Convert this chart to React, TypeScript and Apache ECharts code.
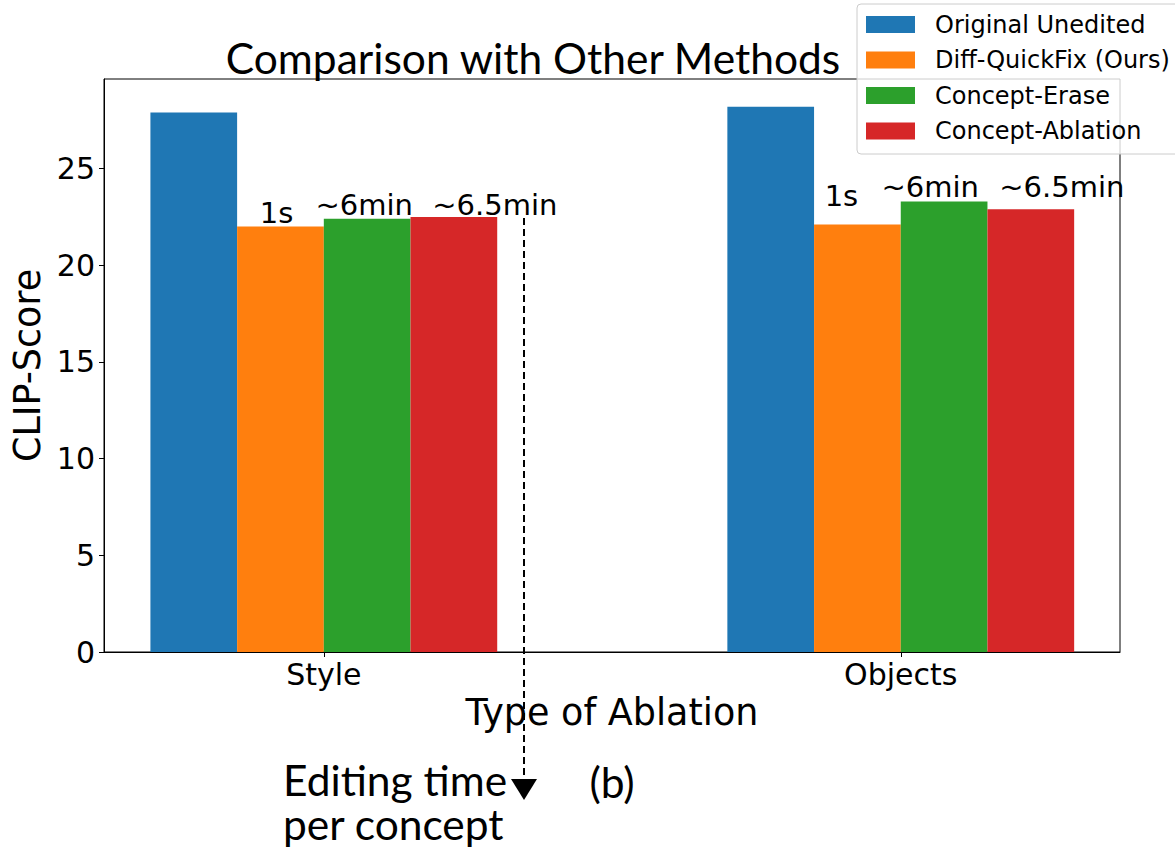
import React, { useEffect, useRef } from 'react';
import * as echarts from 'echarts';

const categories = ['Style', 'Objects'];
const categoryPositions = [0, 1];
const seriesNames = ['Original Unedited', 'Diff-QuickFix (Ours)', 'Concept-Erase', 'Concept-Ablation'];
const originalUnedited = [27.9, 28.2];
const diffQuickFix = [22.0, 22.1];
const conceptErase = [22.4, 23.3];
const conceptAblation = [22.5, 22.9];
const timeLabels = ['', '1s', '~6min', '~6.5min'];
const yTickValues = [0, 5, 10, 15, 20, 25];

const colors = ['#1f77b4', '#ff7f0e', '#2ca02c', '#d62728'];
const labelOffsets = [
  [[0, 0], [0, 0]],
  [[-4, 1], [-16, -14]],
  [[-3, 1], [-14, 0]],
  [[41, 3], [31, -8]],
];

const seriesValues = [originalUnedited, diffQuickFix, conceptErase, conceptAblation];

export default function App() {
  const ref = useRef<HTMLDivElement>(null);
  useEffect(() => {
    if (!ref.current) return;
    const chart = echarts.init(ref.current, undefined, { renderer: 'svg' });
    const font = 'DejaVu Sans';
    const overlayFont = 'Lato';
    const overlayText = (text: string, x: number, y: number, align: string, lineHeight: number) => ({
      type: 'text', x, y,
      style: {
        text, fontSize: 42.5, fontFamily: overlayFont, fill: '#000', lineHeight,
        align, verticalAlign: 'middle', textAlign: align, textVerticalAlign: 'middle',
      },
    });
    const option: any = {
      animation: false,
      backgroundColor: '#ffffff',
      grid: {
        left: 104, top: 79, width: 1016, height: 573,
        show: true, borderColor: '#000', borderWidth: 1, backgroundColor: 'transparent',
      },
      xAxis: {
        type: 'value', min: -0.381, max: 1.38,
        splitLine: { show: false },
        axisLine: { show: true, onZero: false, lineStyle: { color: '#000', width: 1 } },
        axisTick: { show: true, customValues: categoryPositions, length: 5, lineStyle: { color: '#000' } },
        axisLabel: {
          customValues: categoryPositions,
          formatter: (v: number) => categories[Math.round(v)] ?? '',
          fontSize: 30, fontFamily: font, color: '#000', margin: 7,
        },
        name: 'Type of Ablation', nameLocation: 'middle', nameGap: 39,
        nameTextStyle: { fontSize: 36.5, fontFamily: font, color: '#000' },
      },
      yAxis: {
        type: 'value', min: 0, max: 29.63,
        splitLine: { show: false },
        axisLine: { show: true, onZero: false, lineStyle: { color: '#000', width: 1 } },
        axisTick: { show: true, customValues: yTickValues, length: 5, lineStyle: { color: '#000' } },
        axisLabel: { customValues: yTickValues, fontSize: 30, fontFamily: font, color: '#000', margin: 9 },
        name: 'CLIP-Score', nameLocation: 'middle', nameGap: 56,
        nameTextStyle: { fontSize: 36.5, fontFamily: font, color: '#000' },
      },
      legend: {
        orient: 'vertical', left: 857, top: 4,
        icon: 'rect', itemWidth: 49, itemHeight: 17, itemGap: 11.5,
        padding: [8.5, 10, 11, 9],
        backgroundColor: 'rgba(255,255,255,0.8)', borderColor: '#cccccc', borderWidth: 1, borderRadius: 4,
        textStyle: { fontSize: 24, fontFamily: font, color: '#000', lineHeight: 24, padding: [0, 0, 0, 15] },
        data: seriesNames,
      },
      series: seriesNames.map((name, s) => ({
        name, type: 'bar', barWidth: 86.7, barGap: '0%',
        itemStyle: { color: colors[s] },
        data: categoryPositions.map((p, i) => ({
          value: [p, seriesValues[s][i]],
          label: {
            show: !!timeLabels[s], position: 'top', distance: 0,
            offset: labelOffsets[s][i],
            formatter: timeLabels[s],
            fontSize: 29, fontFamily: font, color: '#000', lineHeight: 29,
          },
        })),
      })),
      graphic: [
        { type: 'line', shape: { x1: 524, y1: 218, x2: 524, y2: 781 }, style: { stroke: '#000', lineWidth: 2, lineDash: [7, 4] } },
        { type: 'polygon', shape: { points: [[511, 779], [537, 779], [524, 800]] }, style: { fill: '#000' } },
        overlayText('Comparison with Other Methods', 533, 57, 'center', 44),
        overlayText('Editing time\nper concept', 283, 801, 'left', 44),
        overlayText('(b)', 612, 781, 'center', 44),
      ],
    };
    chart.setOption(option);
    return () => chart.dispose();
  }, []);
  return <div ref={ref} style={{ position: 'absolute', left: 0, top: 0, width: 1175, height: 861 }} />;
}
